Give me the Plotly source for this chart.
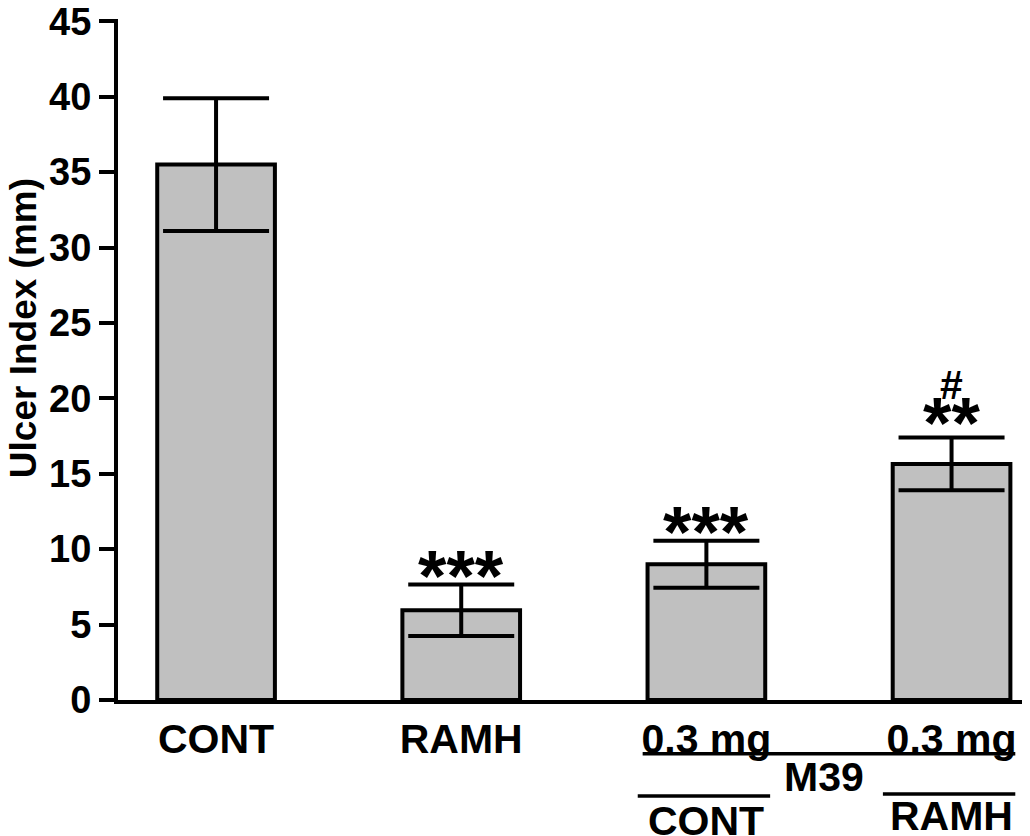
import plotly.graph_objects as go

# ulcer index per group (mm), mean and error
groups = ['CONT', 'RAMH', 'M39 CONT', 'M39 RAMH']
tick_labels = ['CONT', 'RAMH', '0.3 mg', '0.3 mg']
ulcer_index = [35.5, 5.95, 9.0, 15.65]
ulcer_err = [4.4, 1.7, 1.55, 1.75]
stars = ['', '***', '***', '**']
hash_marks = ['', '', '', '#']
y_ticks = [0, 5, 10, 15, 20, 25, 30, 35, 40, 45]

FONT = 'Liberation Sans, Arial, sans-serif'

fig = go.Figure()
fig.add_trace(go.Bar(
    x=list(range(len(groups))),
    y=ulcer_index,
    width=0.48,
    marker=dict(color='#c0c0c0', line=dict(color='black', width=4)),
    error_y=dict(type='data', array=ulcer_err, color='black',
                 thickness=4, width=53),
    showlegend=False,
))

# significance marks above the error bars
for i, (m, e) in enumerate(zip(ulcer_index, ulcer_err)):
    if stars[i]:
        fig.add_annotation(x=i, y=m + e, text='<b>' + stars[i] + '</b>',
                           showarrow=False, yanchor='middle',
                           yshift=9 if len(stars[i]) == 3 else 15,
                           font=dict(family=FONT, size=73, color='black'))
    if hash_marks[i]:
        fig.add_annotation(x=i, y=m + e, text='<b>' + hash_marks[i] + '</b>',
                           showarrow=False, yanchor='middle', yshift=53,
                           font=dict(family=FONT, size=41, color='black'))

# y title, sits a bit above the middle of the axis
fig.add_annotation(x=0, y=0.546, xref='paper', yref='paper', xshift=-95,
                   text='<b>Ulcer Index (mm)</b>', textangle=-90,
                   showarrow=False, xanchor='center', yanchor='middle',
                   font=dict(family=FONT, size=37, color='black'))

# group labels under the M39 bars
lab_font = dict(family=FONT, size=41, color='black')
rule = dict(color='black', width=3.5)
fig.add_shape(type='line', xref='x', yref='paper', x0=1.74, x1=3.26,
              y0=-0.079, y1=-0.079, line=rule)
fig.add_annotation(x=2.48, xref='x', yref='paper', y=-0.113, text='<b>M39</b>',
                   showarrow=False, yanchor='middle', font=lab_font)
fig.add_shape(type='line', xref='x', yref='paper', x0=1.72, x1=2.26,
              y0=-0.141, y1=-0.141, line=rule)
fig.add_shape(type='line', xref='x', yref='paper', x0=2.72, x1=3.26,
              y0=-0.138, y1=-0.138, line=rule)
fig.add_annotation(x=2, xref='x', yref='paper', y=-0.178, text='<b>CONT</b>',
                   showarrow=False, yanchor='middle', font=lab_font)
fig.add_annotation(x=3, xref='x', yref='paper', y=-0.171, text='<b>RAMH</b>',
                   showarrow=False, yanchor='middle', font=lab_font)

fig.update_layout(
    width=1022, height=828,
    margin=dict(l=110, r=0, t=11, b=136),
    plot_bgcolor='white', paper_bgcolor='white',
    font=dict(family=FONT, color='black'),
    xaxis=dict(
        range=[-0.4, 3.32],
        tickmode='array',
        tickvals=list(range(len(groups))),
        ticktext=['<b>' + t + '</b>' for t in tick_labels],
        tickfont=dict(family=FONT, size=41, color='black'),
        showline=True, linecolor='black', linewidth=4,
        ticks='', showgrid=False, zeroline=False, automargin=False,
    ),
    yaxis=dict(
        range=[0, 45.15],
        tickmode='array',
        tickvals=y_ticks,
        ticktext=['<b>%d</b>' % v for v in y_ticks],
        tickfont=dict(family=FONT, size=38, color='black'),
        ticks='outside', ticklen=15, tickwidth=4, tickcolor='black',
        ticklabeloverflow='allow',
        showline=True, linecolor='black', linewidth=4,
        showgrid=False, zeroline=False, automargin=False,
    ),
)

fig.write_html('out.html')
